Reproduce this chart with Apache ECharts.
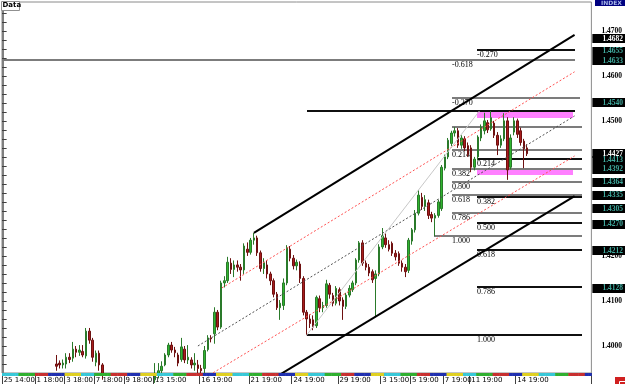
<!DOCTYPE html>
<html><head><meta charset="utf-8">
<script src="https://cdn.jsdelivr.net/npm/echarts/dist/echarts.min.js"></script>
<style>html,body{margin:0;padding:0;background:#fff}#c{width:625px;height:384px}</style>
</head><body><div id="c"></div>
<script>
// ---------- DATA ----------
const BAR_COUNT = 179;
const FIRST_BAR = 16;
// [open, close, low, high]
const ohlc = [
[1.3960,1.3955,1.3945,1.3980],[1.3962,1.3958,1.3950,1.3968],[1.3958,1.3962,1.3950,1.3970],[1.3960,1.3975,1.3950,1.3984],
[1.3975,1.3970,1.3962,1.3984],[1.3973,1.3993,1.3965,1.4009],[1.3993,1.3986,1.3975,1.4000],[1.3986,1.3991,1.3978,1.4002],
[1.3988,1.3980,1.3975,1.4002],[1.3978,1.4033,1.3972,1.4040],[1.4033,1.4013,1.4005,1.4040],[1.4013,1.3975,1.3965,1.4018],
[1.3964,1.3984,1.3955,1.3990],[1.3984,1.3958,1.3945,1.3990],[1.3958,1.3935,1.3925,1.3962],[1.3935,1.3922,1.3910,1.3938],
[1.3922,1.3915,1.3905,1.3930],[1.3915,1.3900,1.3890,1.3920],[1.3900,1.3908,1.3888,1.3915],[1.3908,1.3895,1.3885,1.3912],
[1.3895,1.3880,1.3872,1.3900],[1.3880,1.3888,1.3870,1.3895],[1.3888,1.3875,1.3865,1.3893],[1.3875,1.3885,1.3868,1.3892],
[1.3885,1.3898,1.3878,1.3905],[1.3898,1.3890,1.3880,1.3908],[1.3890,1.3905,1.3885,1.3912],[1.3905,1.3915,1.3898,1.3925],
[1.3915,1.3910,1.3900,1.3928],[1.3910,1.3925,1.3905,1.3935],[1.3925,1.3935,1.3918,1.3962],[1.3935,1.3945,1.3928,1.3962],
[1.3945,1.3955,1.3938,1.3966],[1.3958,1.3980,1.3955,1.3984],[1.3980,1.4002,1.3975,1.4007],[1.4002,1.3991,1.3985,1.4009],
[1.3991,1.3985,1.3975,1.3998],[1.3980,1.3962,1.3955,1.3985],[1.3970,1.3998,1.3965,1.4018],[1.3993,1.3969,1.3962,1.4000],
[1.3969,1.3975,1.3960,1.4002],[1.3969,1.3958,1.3950,1.3975],[1.3958,1.3962,1.3945,1.3984],[1.3958,1.3950,1.3935,1.3969],
[1.3950,1.3945,1.3935,1.3958],[1.3950,1.3990,1.3940,1.4000],[1.3992,1.4018,1.3988,1.4024],[1.4018,1.4016,1.4008,1.4024],
[1.4027,1.4075,1.4005,1.4086],[1.4075,1.4042,1.4035,1.4080],[1.4042,1.4140,1.4038,1.4145],[1.4140,1.4145,1.4130,1.4155],
[1.4145,1.4186,1.4140,1.4198],[1.4184,1.4170,1.4160,1.4195],[1.4170,1.4180,1.4153,1.4190],[1.4180,1.4175,1.4165,1.4190],
[1.4175,1.4169,1.4145,1.4182],[1.4169,1.4222,1.4160,1.4228],[1.4215,1.4208,1.4200,1.4230],[1.4208,1.4235,1.4203,1.4240],
[1.4235,1.4240,1.4225,1.4251],[1.4240,1.4207,1.4200,1.4245],[1.4207,1.4172,1.4165,1.4212],[1.4172,1.4185,1.4160,1.4195],
[1.4180,1.4160,1.4150,1.4190],[1.4160,1.4145,1.4135,1.4165],[1.4145,1.4115,1.4108,1.4150],[1.4115,1.4085,1.4080,1.4120],
[1.4085,1.4095,1.4058,1.4102],[1.4090,1.4140,1.4080,1.4150],[1.4140,1.4218,1.4135,1.4224],[1.4215,1.4195,1.4188,1.4222],
[1.4195,1.4178,1.4170,1.4202],[1.4178,1.4186,1.4168,1.4192],[1.4182,1.4150,1.4140,1.4188],[1.4150,1.4075,1.4068,1.4155],
[1.4075,1.4060,1.4024,1.4080],[1.4060,1.4050,1.4040,1.4070],[1.4058,1.4042,1.4035,1.4068],[1.4045,1.4108,1.4040,1.4112],
[1.4105,1.4085,1.4075,1.4112],[1.4085,1.4090,1.4075,1.4098],[1.4090,1.4138,1.4085,1.4147],[1.4135,1.4115,1.4105,1.4140],
[1.4112,1.4095,1.4088,1.4118],[1.4095,1.4128,1.4090,1.4133],[1.4125,1.4100,1.4090,1.4130],[1.4102,1.4088,1.4058,1.4108],
[1.4088,1.4113,1.4082,1.4118],[1.4113,1.4128,1.4108,1.4135],[1.4125,1.4140,1.4120,1.4145],[1.4140,1.4191,1.4135,1.4195],
[1.4191,1.4229,1.4185,1.4233],[1.4229,1.4184,1.4178,1.4235],[1.4184,1.4175,1.4168,1.4190],[1.4175,1.4162,1.4155,1.4182],
[1.4165,1.4147,1.4140,1.4170],[1.4150,1.4160,1.4065,1.4168],[1.4160,1.4220,1.4155,1.4226],[1.4220,1.4245,1.4215,1.4262],
[1.4240,1.4225,1.4218,1.4250],[1.4225,1.4215,1.4210,1.4235],[1.4228,1.4206,1.4200,1.4232],[1.4206,1.4198,1.4190,1.4213],
[1.4205,1.4184,1.4178,1.4210],[1.4184,1.4175,1.4165,1.4190],[1.4175,1.4165,1.4153,1.4182],[1.4168,1.4235,1.4162,1.4240],
[1.4233,1.4258,1.4225,1.4262],[1.4258,1.4295,1.4252,1.4302],[1.4295,1.4335,1.4290,1.4346],[1.4330,1.4310,1.4302,1.4340],
[1.4310,1.4325,1.4300,1.4335],[1.4318,1.4290,1.4282,1.4325],[1.4292,1.4284,1.4275,1.4298],[1.4284,1.4290,1.4244,1.4295],
[1.4290,1.4320,1.4285,1.4325],[1.4305,1.4397,1.4300,1.4402],[1.4395,1.4420,1.4390,1.4425],[1.4420,1.4457,1.4415,1.4462],
[1.4450,1.4473,1.4444,1.4478],[1.4473,1.4478,1.4465,1.4486],[1.4478,1.4446,1.4440,1.4484],[1.4446,1.4462,1.4438,1.4468],
[1.4460,1.4440,1.4433,1.4466],[1.4445,1.4425,1.4420,1.4452],[1.4440,1.4397,1.4386,1.4446],[1.4397,1.4415,1.4390,1.4420],
[1.4420,1.4464,1.4412,1.4468],[1.4462,1.4486,1.4455,1.4492],[1.4478,1.4500,1.4470,1.4518],[1.4496,1.4480,1.4473,1.4502],
[1.4482,1.4507,1.4478,1.4522],[1.4495,1.4468,1.4462,1.4500],[1.4468,1.4446,1.4424,1.4475],[1.4446,1.4460,1.4440,1.4468],
[1.4460,1.4500,1.4455,1.4517],[1.4500,1.4391,1.4369,1.4508],[1.4397,1.4462,1.4392,1.4470],[1.4475,1.4500,1.4468,1.4508],
[1.4500,1.4470,1.4462,1.4505],[1.4478,1.4452,1.4445,1.4485],[1.4455,1.4438,1.4395,1.4460],[1.4440,1.4427,1.4422,1.4448]
];
const timeLabels = ['25 14:00','1 18:00','3 18:00','7 18:00','9 18:00','13 15:00','16 19:00','21 19:00','24 19:00','29 19:00','3 15:00','5 19:00','7 19:00','11 19:00','14 19:00'];
const timeLabelBars = [0,10,19,28,37,46,60,75,88,102,115,124,134,142,156];

const yMin = 1.3940, yMax = 1.4764, yStep = 0.002;

// pitchfork / channel lines: [startBar, startPrice, endBar, endPrice, style]
const channelUpper  = [76.0, 1.4251, 173.4, 1.4691, 0];
const channelLower  = [83.8, 1.3936, 173.4, 1.4333, 0];
const channelMedian = [59.0, 1.4000, 173.4, 1.4511, 1];
const quarterUpper  = [66.3, 1.4129, 173.4, 1.4609, 2];
const quarterLower  = [62.6, 1.3936, 173.4, 1.4422, 2];
const fibDiagonal   = [92.0, 1.4024, 144.5, 1.4522, 3];

const fibRatios = [-0.618, -0.270, 0, 0.214, 0.382, 0.5, 0.618, 0.786, 1];
const fibText   = ['-0.618','-0.270','','0.214','0.382','0.500','0.618','0.786','1.000'];
const fib1High = 1.4486, fib1Low = 1.4244;
const fib1Start = [-0.6, 136.3, 136.3, 136.3, 136.3, 136.3, 136.3, 136.3, 130.6];
const fib1End   = [173.4, 174.9, 175.8, 175.8, 175.8, 175.8, 175.8, 175.8, 175.8];
const fib1LabelBar = 136.3;
const fib2High = 1.4522, fib2Low = 1.4024;
const fib2Start = [null, 143.9, 92.0, 143.9, 143.9, 143.9, 143.9, 143.9, 92.0];
const fib2End   = [null, 173.4, 173.4, 175.8, 175.8, 175.8, 175.8, 175.8, 175.8];
const fib2LabelBar = 143.9;

// highlighted zones: [startBar, endBar, top, bottom]
const zoneTop    = [143.9, 173.0, 1.4522, 1.4506];
const zoneBottom = [143.9, 173.0, 1.4393, 1.4380];

const priceTags   = [1.4682,1.4655,1.4633,1.4540,1.4427,1.4413,1.4392,1.4364,1.4335,1.4305,1.4270,1.4212,1.4128];
const priceTagHot = [1,0,0,0,1,0,0,0,0,0,0,0,0];

const sessionColors = ['#38c8d8','#30b030','#c83030','#2030b0','#e0d020'];
const barsPerSession = 4.64;

// ---------- BUILD ----------
const categories = Array.from({length: BAR_COUNT}, (_, i) => {
  const k = timeLabelBars.indexOf(i); return k >= 0 ? timeLabels[k] : '';
});
const candleData = categories.map((_, i) => {
  const d = ohlc[i - FIRST_BAR]; return d ? d : ['-','-','-','-'];
});

const lineStyles = [
  {color:'#000', width:2},
  {color:'#505050', width:1, dash:[2,2]},
  {color:'#ff5050', width:1, dash:[2,2]},
  {color:'#c8c8c8', width:1}
];
const channelData = [channelUpper, channelLower, channelMedian, quarterUpper, quarterLower, fibDiagonal];

const fibData = [];
fibRatios.forEach((r, k) => {
  fibData.push([fib1Start[k], fib1End[k], fib1High - r*(fib1High - fib1Low), 0, k, fib1LabelBar]);
  if (fib2Start[k] !== null)
    fibData.push([fib2Start[k], fib2End[k], fib2High - r*(fib2High - fib2Low), 1, k, fib2LabelBar]);
});

const sessionData = categories.map((_, i) => [i, Math.floor(i / barsPerSession) % 5]);

function crisp(v, w){ return w % 2 === 1 ? Math.round(v) + 0.5 : Math.round(v); }

const chart = echarts.init(document.getElementById('c'), null, {renderer:'canvas'});
chart.setOption({
  animation: false,
  backgroundColor: '#ffffff',
  grid: {left: 2, right: 33, top: 2, bottom: 11, show: true, borderColor: '#8a8a8a', borderWidth: 1, backgroundColor:'#ffffff'},
  xAxis: [
    {type:'category', data: categories, boundaryGap: true,
     axisLine:{show:false},
     axisTick:{show:true, interval:(i, v) => v !== '', length: 11, lineStyle:{color:'#404040'}},
     axisLabel:{interval:(i, v) => v !== '', align:'left', margin: 4, fontSize: 7, fontFamily:'DejaVu Sans', color:'#000', padding:[0,0,0,0]},
     splitLine:{show:false}},
    {type:'value', min:-0.5, max: BAR_COUNT - 0.5, show:false}
  ],
  yAxis: [
    {type:'value', position:'right', min: yMin, max: yMax, interval: yStep, scale:true,
     axisLine:{show:true, lineStyle:{color:'#808080'}},
     axisTick:{show:true, length:3, lineStyle:{color:'#404040'}},
     axisLabel:{margin: 10, fontSize: 7.5, fontWeight:'bold', fontFamily:'Liberation Serif', color:'#000',
       formatter: v => Math.abs(v*100 - Math.round(v*100)) < 1e-6 ? v.toFixed(4) : ''},
     splitLine:{show:false}},
    {type:'value', position:'left', min: yMin, max: yMax, interval: yStep, scale:true,
     axisLine:{show:true, lineStyle:{color:'#808080'}},
     axisTick:{show:true, inside:true, length:3, lineStyle:{color:'#404040'}},
     axisLabel:{show:false}, splitLine:{show:false}}
  ],
  series: [
    {type:'custom', name:'zones', xAxisIndex:1, yAxisIndex:0, z:1, clip:true,
     data:[zoneTop, zoneBottom],
     renderItem:(params, api) => {
       const a = api.coord([api.value(0), api.value(2)]);
       const b = api.coord([api.value(1), api.value(3)]);
       return {type:'rect', shape:{x:Math.round(a[0]), y:Math.round(a[1]), width:Math.round(b[0]-a[0]), height:Math.max(1, Math.round(b[1]-a[1]))},
               style:{fill:'#ff80ff'}};
     }},
    {type:'custom', name:'fib', xAxisIndex:1, yAxisIndex:0, z:3, clip:false,
     data: fibData,
     renderItem:(params, api) => {
       const isF2 = api.value(3) === 1;
       const w = 2;
       const a = api.coord([api.value(0), api.value(2)]);
       const b = api.coord([api.value(1), api.value(2)]);
       const y = crisp(a[1], w);
       const lab = api.coord([api.value(5), api.value(2)]);
       const children = [{type:'line', shape:{x1:Math.round(a[0]), y1:y, x2:Math.round(b[0]), y2:y},
                          style:{stroke: isF2 ? '#101010' : '#7c7c7c', lineWidth: w}}];
       const t = fibText[api.value(4)];
       if (t) children.push({type:'text', x: Math.round(lab[0]), y: Math.round(a[1]) + 1,
         style:{text:t, fill:'#000', font:'8px "Liberation Serif"', verticalAlign:'top', align:'left'}});
       return {type:'group', children};
     }},
    {type:'candlestick', name:'price', xAxisIndex:0, yAxisIndex:0, z:4, data: candleData, barWidth: 2,
     itemStyle:{color:'#2fb52f', color0:'#a81c1c', borderColor:'#2a7a2a', borderColor0:'#6e1010', borderWidth:1}},
    {type:'custom', name:'channel', xAxisIndex:1, yAxisIndex:0, z:5, clip:true,
     data: channelData,
     renderItem:(params, api) => {
       const a = api.coord([api.value(0), api.value(1)]);
       const b = api.coord([api.value(2), api.value(3)]);
       const st = lineStyles[api.value(4)];
       return {type:'line', shape:{x1:a[0], y1:a[1], x2:b[0], y2:b[1]},
               style:{stroke: st.color, lineWidth: st.width, lineDash: st.dash || null}};
     }},
    {type:'custom', name:'session', xAxisIndex:1, yAxisIndex:0, z:6, clip:false,
     data: sessionData,
     renderItem:(params, api) => {
       const cs = params.coordSys;
       const c = api.coord([api.value(0), yMin]);
       const w = api.size([1, 0])[0];
       return {type:'rect', shape:{x: c[0] - w/2, y: cs.y + cs.height, width: w + 0.5, height: 3},
               style:{fill: sessionColors[api.value(1)]}};
     }},
    {type:'custom', name:'tags', xAxisIndex:1, yAxisIndex:0, z:10, clip:false,
     data: priceTags.map((p, k) => [p, priceTagHot[k]]),
     renderItem:(params, api) => {
       const cs = params.coordSys;
       const y = api.coord([0, api.value(0)])[1];
       const x0 = cs.x + cs.width + 1;
       return {type:'group', children:[
         {type:'rect', shape:{x:x0, y:Math.round(y - 4.5), width:625 - x0, height:9}, style:{fill:'#000'}},
         {type:'text', x: x0 + 10, y: Math.round(y), style:{text: api.value(0).toFixed(4), fill: api.value(1) ? '#ffffff' : '#3fa89c',
           font:'bold 7.5px "Liberation Serif"', verticalAlign:'middle', align:'left'}}
       ]};
     }}
  ],
  graphic: [
    {type:'rect', left: 595, top: 0, shape:{width:30, height:6}, style:{fill:'#000080'}, z:20},
    {type:'text', left: 601, top: 0, style:{text:'INDEX', fill:'#a8b8e8', font:'bold 6px "DejaVu Sans"'}, z:21},
    {type:'rect', left: 1, top: 1, shape:{width:18, height:9}, style:{fill:'#fff', stroke:'#909090', lineWidth:1}, z:20},
    {type:'text', left: 2.5, top: 2, style:{text:'Data', fill:'#000', font:'bold 7px "DejaVu Sans"'}, z:21},
    {type:'rect', left: 615, top: 377, shape:{width:10, height:7}, style:{fill:'#d02020'}, z:20},
    {type:'rect', left: 617, top: 379, shape:{width:6, height:3}, style:{fill:'none', stroke:'#fff', lineWidth:1}, z:21}
  ]
});
</script></body></html>
